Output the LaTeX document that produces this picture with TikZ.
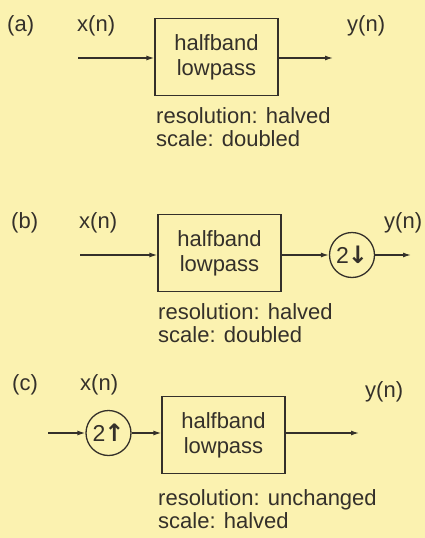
\documentclass[tikz,border=0pt]{standalone}
\usepackage{fontspec}
\setmainfont{Liberation Sans}
\newfontfamily\symfont{DejaVu Sans}
\usetikzlibrary{arrows.meta}
\definecolor{bg}{HTML}{FBF2B0}
\definecolor{ink}{HTML}{34302A}
\tikzset{
  lbl/.style={text=ink, font=\fontsize{22}{24}\selectfont, inner sep=0pt},
  fbox/.style={draw=ink, line width=1.3pt, minimum width=123pt, minimum height=77pt, inner sep=0pt, align=center, text=ink, font=\fontsize{22}{25}\selectfont},
  rate/.style={draw=ink, line width=1.3pt, circle, minimum size=45pt, inner sep=0pt, text=ink, font=\fontsize{23}{24}\selectfont},
  note/.style={text=ink, font=\fontsize{22}{23}\selectfont, align=left, anchor=north west, inner sep=0pt},
  sig/.style={draw=ink, line width=1.3pt, -{Latex[length=8pt,width=5pt]}}
}
\begin{document}
\begin{tikzpicture}[x=1pt,y=-1pt]
\useasboundingbox[fill=bg] (0,0) rectangle (425,538);
% (a)
\node[lbl, anchor=west] (la) at (7,26) {(a)};
\node[lbl, anchor=west] (xa) at (77,26) {x(n)};
\node[lbl, anchor=west] (ya) at (347,26) {y(n)};
\node[fbox] (fa) at (216.5,57) {halfband\\lowpass};
\coordinate (ia) at (78,58);
\coordinate (oa) at (333,58);
\draw[sig] (ia) -- (ia -| fa.west);
\draw[sig] (fa.east |- oa) -- (oa);
\node[note] (na) at (156,107) {resolution: halved\\scale: doubled};
% (b)
\node[lbl, anchor=west] (lb) at (11,223) {(b)};
\node[lbl, anchor=west] (xb) at (79,223) {x(n)};
\node[lbl, anchor=west] (yb) at (384,223) {y(n)};
\node[fbox] (fb) at (219.5,253) {halfband\\lowpass};
\node[rate] (db) at (352,255) {2\kern-1pt{\symfont\bfseries\fontsize{24}{24}\selectfont ↓}};
\coordinate (ib) at (80,255);
\coordinate (ob) at (411,255);
\draw[sig] (ib) -- (ib -| fb.west);
\draw[sig] (fb.east |- db.west) -- (db.west);
\draw[sig] (db.east) -- (ob);
\node[note] (nb) at (158,303) {resolution: halved\\scale: doubled};
% (c)
\node[lbl, anchor=west] (lc) at (12,385) {(c)};
\node[lbl, anchor=west] (xc) at (80,385) {x(n)};
\node[lbl, anchor=west] (yc) at (365,392) {y(n)};
\node[rate] (uc) at (108.5,433) {2\kern-1pt{\symfont\bfseries\fontsize{24}{24}\selectfont ↑}};
\node[fbox] (fc) at (223.5,435) {halfband\\lowpass};
\coordinate (ic) at (48,433);
\coordinate (oc) at (359,433);
\draw[sig] (ic) -- (uc.west);
\draw[sig] (uc.east) -- (uc.east -| fc.west);
\draw[sig] (fc.east |- oc) -- (oc);
\node[note] (nc) at (158,489) {resolution: unchanged\\scale: halved};
\end{tikzpicture}
\end{document}
